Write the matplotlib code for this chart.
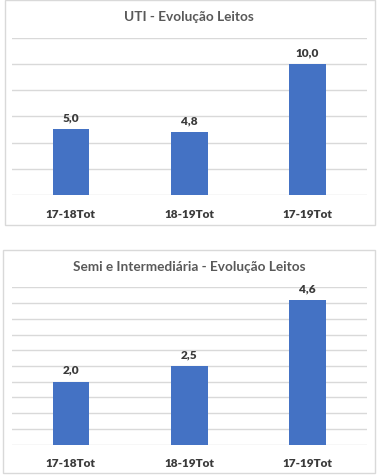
import matplotlib
matplotlib.use("Agg")
import matplotlib.pyplot as plt
from matplotlib.patches import Rectangle
import numpy as np

categories = ["17-18Tot", "18-19Tot", "17-19Tot"]
uti_values = [5.0, 4.8, 10.0]
semi_values = [2.0, 2.5, 4.6]
uti_title = "UTI - Evolução Leitos"
semi_title = "Semi e Intermediária - Evolução Leitos"

W, H = 378, 477
fig = plt.figure(figsize=(W / 100, H / 100), dpi=100)
fig.patch.set_facecolor("white")
plt.rcParams["font.family"] = ["Lato", "DejaVu Sans"]

BAR = "#4472C4"
GRID = "#D9D9D9"
TXT = "#3A3A3A"
TTL = "#595959"

def px_rect(x0, y0, x1, y1):
    return [x0 / W, 1 - y1 / H, (x1 - x0) / W, (y1 - y0) / H]

def panel(axrect, values, ymax, step, title, title_y, border):
    bx0, by0, bx1, by1 = border
    fig.patches.append(Rectangle((bx0 / W, 1 - by1 / H), (bx1 - bx0) / W, (by1 - by0) / H,
                                 transform=fig.transFigure, fill=False,
                                 edgecolor=GRID, linewidth=1.0))
    ax = fig.add_axes(px_rect(*axrect))
    x = np.arange(len(categories))
    ax.bar(x, values, width=0.31, color=BAR, zorder=3)
    ax.set_xlim(-0.5, len(categories) - 0.5)
    ax.set_ylim(0, ymax)
    ax.set_yticks(np.arange(0, ymax + step / 2, step))
    ax.yaxis.grid(True, color=GRID, linewidth=1.0)
    ax.set_axisbelow(True)
    ax.tick_params(axis="y", length=0, labelleft=False)
    ax.tick_params(axis="x", length=0, pad=9)
    ax.set_xticks(x)
    ax.set_xticklabels(categories, fontsize=8.5, fontweight="heavy", color=TXT)
    for s in ax.spines.values():
        s.set_visible(False)
    ax.set_facecolor("none")
    for xi, v in zip(x, values):
        ax.annotate(f"{v:.1f}".replace(".", ","), (xi, v), xytext=(0, 5),
                    textcoords="offset points", ha="center", va="bottom",
                    fontsize=8.5, fontweight="heavy", color=TXT)
    cx = (axrect[0] + axrect[2]) / 2
    fig.text(cx / W, 1 - title_y / H, title, ha="center", va="center",
             fontsize=9.8, fontweight="bold", color=TTL)
    return ax

panel((11.7, 38.7, 366.7, 196.0), uti_values, 12, 2, uti_title, 17.3, (5, 1, 375, 226))
panel((11.7, 288.3, 366.7, 445.7), semi_values, 5, 0.5, semi_title, 267.3, (3, 251, 375, 474))

fig.savefig("out.png", dpi=100, facecolor="white")
